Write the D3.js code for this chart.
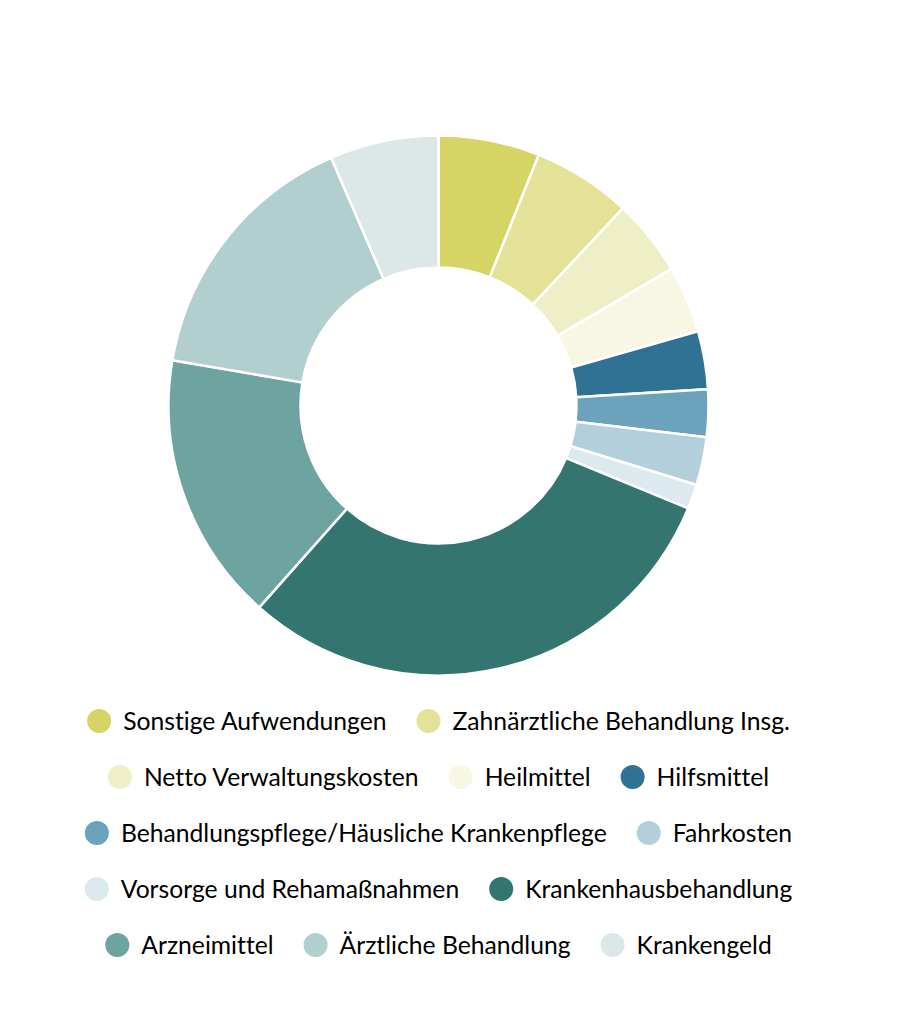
<!DOCTYPE html>
<html>
<head>
    <meta charset="utf-8">
    <title>Ausgaben Donut</title>
    <script src="https://d3js.org/d3.v7.min.js"></script>
    <style>
        body { margin: 0; background: #fff; }
        #chart text {
            font-family: "Source Sans Pro", Lato, sans-serif;
            font-variant-ligatures: none;
            font-feature-settings: "liga" 0, "dlig" 0;
            fill: #000;
        }
    </style>
</head>
<body>
    <div id="chart"></div>

    <script>
        // categories in drawing order (clockwise from 12 o'clock)
        const categories = [
            "Sonstige Aufwendungen",
            "Zahnärztliche Behandlung Insg.",
            "Netto Verwaltungskosten",
            "Heilmittel",
            "Hilfsmittel",
            "Behandlungspflege/Häusliche Krankenpflege",
            "Fahrkosten",
            "Vorsorge und Rehamaßnahmen",
            "Krankenhausbehandlung",
            "Arzneimittel",
            "Ärztliche Behandlung",
            "Krankengeld"
        ];
        // share in percent
        const values = [6.05, 5.9, 4.6, 4.0, 3.46, 2.84, 2.87, 1.47, 30.3, 16.1, 15.8, 6.5];
        const colors = [
            "#d6d465", "#e3e297", "#efefc7", "#f7f7e4",
            "#2f7294", "#6ba3bc", "#b3cfdb", "#dce9ef",
            "#347570", "#6da4a0", "#b2cfcf", "#dbe8e7"
        ];

        const width = 900, height = 1026;
        const cx = 438.5, cy = 405.5;
        const rOuter = 270, rInner = 138;

        const svg = d3.select("#chart")
            .append("svg")
            .attr("width", width)
            .attr("height", height);

        const data = categories.map((c, i) => ({ name: c, value: values[i], color: colors[i] }));

        const pie = d3.pie().value(d => d.value).sort(null);
        const arc = d3.arc().innerRadius(rInner).outerRadius(rOuter);

        svg.append("g")
            .attr("transform", `translate(${cx},${cy})`)
            .selectAll("path")
            .data(pie(data))
            .join("path")
            .attr("d", arc)
            .attr("fill", d => d.data.color)
            .attr("stroke", "#fff")
            .attr("stroke-width", 2.5);

        // legend: flow layout, rows centred under the donut
        const fontSize = 24.7, dotR = 12, dotGap = 12, itemGap = 30, rowH = 56, maxW = 800;
        const legend = svg.append("g");

        const items = data.map(d => {
            const g = legend.append("g");
            g.append("circle").attr("r", dotR).attr("cx", dotR).attr("fill", d.color);
            const t = g.append("text")
                .attr("x", dotR * 2 + dotGap)
                .attr("dy", "0.35em")
                .style("font-size", fontSize + "px")
                .text(d.name);
            const w = dotR * 2 + dotGap + t.node().getComputedTextLength();
            return { g, w };
        });

        const rows = [];
        let row = [], rowW = 0;
        items.forEach(it => {
            const add = row.length ? itemGap + it.w : it.w;
            if (row.length && rowW + add > maxW) {
                rows.push({ row, rowW });
                row = [it]; rowW = it.w;
            } else {
                row.push(it); rowW += add;
            }
        });
        rows.push({ row, rowW });

        rows.forEach((r, ri) => {
            let x = cx - r.rowW / 2;
            const y = 721 + ri * rowH;
            r.row.forEach(it => {
                it.g.attr("transform", `translate(${x},${y})`);
                x += it.w + itemGap;
            });
        });
    </script>
</body>
</html>
